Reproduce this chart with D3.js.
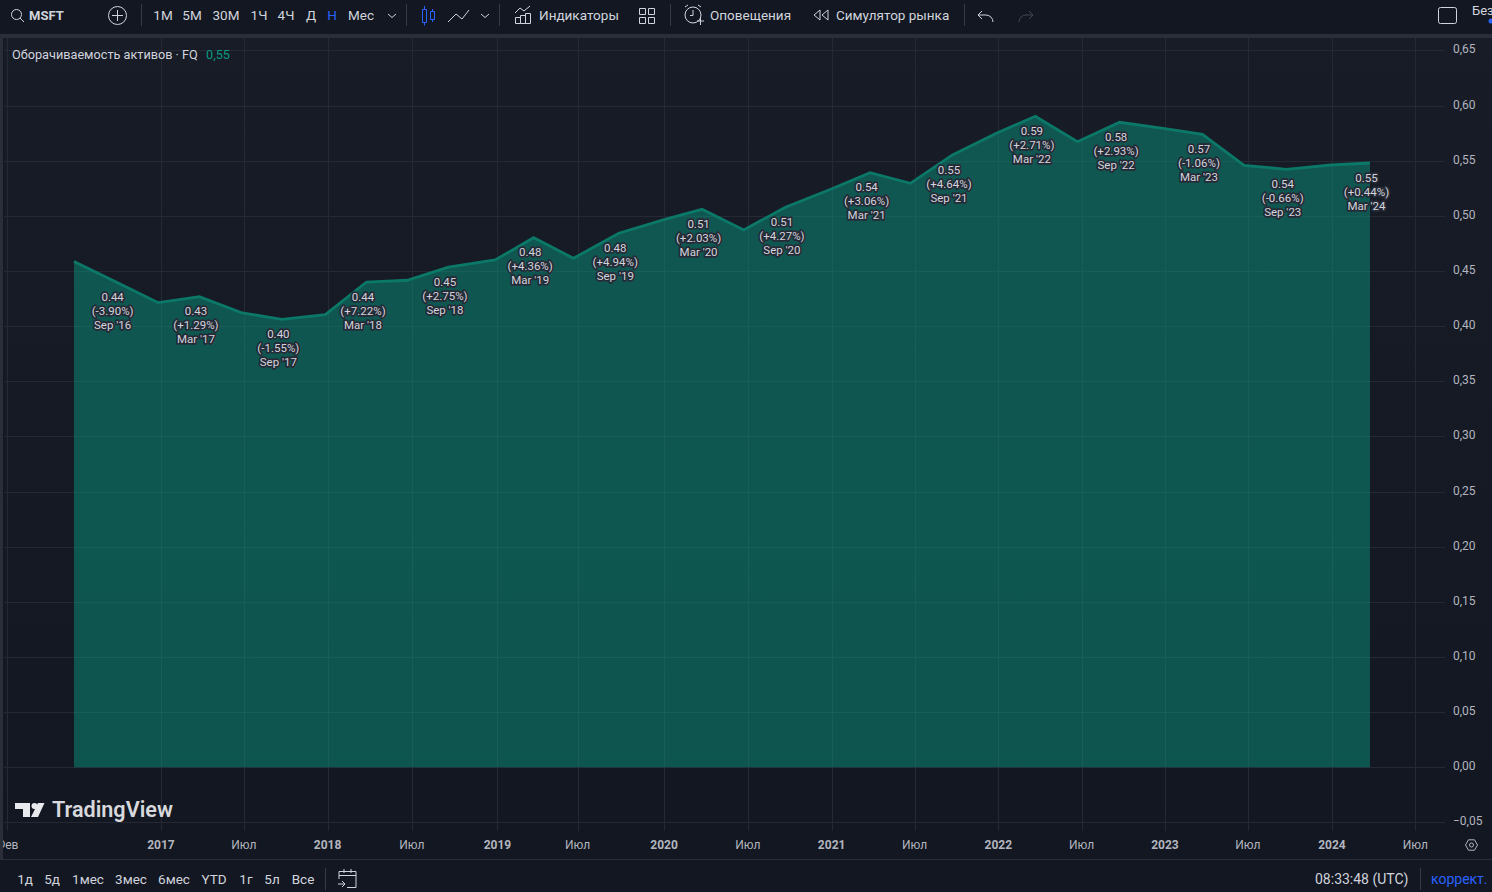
<!DOCTYPE html>
<html>
<head>
<meta charset="utf-8">
<script src="https://cdn.jsdelivr.net/npm/d3@7"></script>
<style>
body { margin: 0; background: #131722; overflow: hidden; }
text { font-family: Roboto, "Noto Sans", sans-serif; }
</style>
</head>
<body>
<svg id="mysvg" width="1492" height="892"></svg>
<script>
// one point per fiscal quarter
let quarterDates = [
    "2016-06-30", "2016-09-30", "2016-12-31", "2017-03-31", "2017-06-30", "2017-09-27", "2017-12-31", "2018-03-31",
    "2018-06-28", "2018-09-26", "2019-01-06", "2019-03-31", "2019-06-26", "2019-10-03", "2020-01-08", "2020-04-02",
    "2020-07-02", "2020-10-01", "2021-01-08", "2021-04-04", "2021-07-01", "2021-10-01", "2022-01-05", "2022-03-31",
    "2022-07-01", "2022-10-01", "2023-01-08", "2023-03-31", "2023-06-30", "2023-09-30", "2024-01-06", "2024-03-31"
];
let turnover = [
    0.4586, 0.440, 0.4213, 0.4267, 0.4122, 0.4062, 0.4104, 0.440,
    0.4416, 0.4534, 0.460, 0.4802, 0.4615, 0.4842, 0.4963, 0.5059,
    0.4872, 0.5078, 0.5241, 0.5391, 0.5295, 0.5552, 0.5749, 0.5903,
    0.5672, 0.5848, 0.579, 0.5739, 0.5458, 0.5422, 0.5461, 0.5479
];

// the labels sit on every second quarter, starting from the second one
let labelValues = ["0.44", "0.43", "0.40", "0.44", "0.45", "0.48", "0.48", "0.51", "0.51", "0.54", "0.55", "0.59", "0.58", "0.57", "0.54", "0.55"];
let labelChanges = ["(-3.90%)", "(+1.29%)", "(-1.55%)", "(+7.22%)", "(+2.75%)", "(+4.36%)", "(+4.94%)", "(+2.03%)", "(+4.27%)", "(+3.06%)", "(+4.64%)", "(+2.71%)", "(+2.93%)", "(-1.06%)", "(-0.66%)", "(+0.44%)"];
let labelPeriods = ["Sep '16", "Mar '17", "Sep '17", "Mar '18", "Sep '18", "Mar '19", "Sep '19", "Mar '20", "Sep '20", "Mar '21", "Sep '21", "Mar '22", "Sep '22", "Mar '23", "Sep '23", "Mar '24"];

let timeTickDates = [
    "2016-02-05", "2017-01-06", "2017-07-06", "2018-01-05", "2018-07-08", "2019-01-11", "2019-07-05", "2020-01-10",
    "2020-07-11", "2021-01-10", "2021-07-10", "2022-01-09", "2022-07-10", "2023-01-08", "2023-07-08", "2024-01-08", "2024-07-08"
];
let timeTickLabels = ["Фев", "2017", "Июл", "2018", "Июл", "2019", "Июл", "2020", "Июл", "2021", "Июл", "2022", "Июл", "2023", "Июл", "2024", "Июл"];
let priceTicks = [-0.05, 0, 0.05, 0.10, 0.15, 0.20, 0.25, 0.30, 0.35, 0.40, 0.45, 0.50, 0.55, 0.60, 0.65];

let intervals = [["1М", 163], ["5М", 192], ["30М", 226], ["1Ч", 259], ["4Ч", 286], ["Д", 311], ["Н", 332], ["Мес", 361]];
let ranges = [["1д", 25], ["5д", 52], ["1мес", 88], ["3мес", 131], ["6мес", 174], ["YTD", 214], ["1г", 246], ["5л", 272], ["Все", 303]];

let Teal = "#089981";
let Blue = "#2962ff";
let TextColor = "#d1d4dc";
let AxisColor = "#b2b5be";
let GridColor = "#252934";
let PanelLine = "#2a2e39";
let Condensed = "'DejaVu Sans Condensed', 'DejaVu Sans', sans-serif";

let svg = d3.select("#mysvg");

let x = d3.scaleUtc()
    .domain([new Date(quarterDates[0]), new Date(quarterDates[quarterDates.length - 1])])
    .range([74, 1370]);
let y = d3.scaleLinear().domain([0, 0.65]).range([767.3, 50.4]);

let ruFormat = d3.format(".2f");
function priceLabel(v)
{
    return ruFormat(v).replace(".", ",").replace("-", "\u2212");
}

function displayPane()
{
    let grad = svg.append("defs").append("linearGradient")
        .attr("id", "panebg").attr("x1", 0).attr("x2", 0).attr("y1", 0).attr("y2", 1);
    grad.append("stop").attr("offset", 0).attr("stop-color", "#181c27");
    grad.append("stop").attr("offset", 1).attr("stop-color", "#131722");

    svg.append("defs").append("clipPath").attr("id", "paneclip")
        .append("rect").attr("x", 4).attr("y", 38).attr("width", 1441).attr("height", 793);

    svg.append("rect").attr("x", 4).attr("y", 38).attr("width", 1488).attr("height", 793).attr("fill", "url(#panebg)");
}

function displayGrid()
{
    let grid = svg.append("g").attr("clip-path", "url(#paneclip)");

    grid.selectAll("line.h").data(priceTicks).enter().append("line")
        .attr("class", "h")
        .attr("x1", 4).attr("x2", 1445)
        .attr("y1", d => Math.round(y(d)) + 0.5).attr("y2", d => Math.round(y(d)) + 0.5)
        .attr("stroke", GridColor);

    grid.selectAll("line.v").data(timeTickDates).enter().append("line")
        .attr("class", "v")
        .attr("y1", 38).attr("y2", 831)
        .attr("x1", d => Math.round(x(new Date(d))) + 0.5).attr("x2", d => Math.round(x(new Date(d))) + 0.5)
        .attr("stroke", GridColor);
}

function displaySeries()
{
    let points = quarterDates.map((d, i) => ({date: new Date(d), value: turnover[i]}));

    let area = d3.area().x(d => x(d.date)).y0(y(0)).y1(d => y(d.value));
    let line = d3.line().x(d => x(d.date)).y(d => y(d.value));

    svg.append("path").datum(points)
        .attr("d", area)
        .attr("fill", Teal)
        .attr("fill-opacity", 0.48);

    svg.append("path").datum(points)
        .attr("d", line)
        .attr("fill", "none")
        .attr("stroke", "#0b7868")
        .attr("stroke-width", 2.8);
}

function displayLabels()
{
    let labelData = labelValues.map((v, i) => {
        let k = 2 * i + 1;
        return {value: v, change: labelChanges[i], period: labelPeriods[i], date: new Date(quarterDates[k]), turnover: turnover[k]};
    });

    let elemEnter = svg.selectAll("g.lbl").data(labelData).enter().append("g")
        .attr("class", "lbl")
        .attr("transform", d => "translate(" + (x(d.date) - 3.5) + ", " + y(d.turnover) + ")");

    ["value", "change", "period"].forEach(function(key, row) {
        elemEnter.append("text")
            .attr("y", 18.6 + row * 14)
            .attr("text-anchor", "middle")
            .attr("font-size", 11.5)
            .attr("font-family", Condensed)
            .attr("fill", TextColor)
            .attr("stroke", "#262a36")
            .attr("stroke-width", 3.4)
            .attr("stroke-linejoin", "round")
            .attr("paint-order", "stroke")
            .text(d => d[key]);
    });
}

function displayAxes()
{
    svg.selectAll("text.price").data(priceTicks).enter().append("text")
        .attr("class", "price")
        .attr("x", 1453)
        .attr("y", d => y(d) + 3)
        .attr("font-size", 12)
        .attr("fill", AxisColor)
        .text(priceLabel);

    svg.selectAll("text.time").data(timeTickDates).enter().append("text")
        .attr("class", "time")
        .attr("x", d => x(new Date(d)))
        .attr("y", 849)
        .attr("text-anchor", "middle")
        .attr("font-size", 12)
        .attr("font-weight", (d, i) => /^\d/.test(timeTickLabels[i]) ? 700 : 400)
        .attr("fill", AxisColor)
        .text((d, i) => timeTickLabels[i]);

    // gear in the axis corner
    svg.append("path")
        .attr("d", "M1465.5 845l3-5.2h6l3 5.2-3 5.2h-6z")
        .attr("fill", "none").attr("stroke", AxisColor);
    svg.append("circle").attr("cx", 1471.5).attr("cy", 845).attr("r", 2)
        .attr("fill", "none").attr("stroke", AxisColor);
}

function displayLegend()
{
    svg.append("text").attr("x", 12).attr("y", 59).attr("font-size", 12.7).attr("fill", TextColor)
        .text("Оборачиваемость активов · FQ");
    svg.append("text").attr("x", 206).attr("y", 59).attr("font-size", 12.7).attr("fill", Teal)
        .text("0,55");

    // watermark
    svg.append("path")
        .attr("d", "M15 803h15v14h-7v-8h-8zM34.5 803a3 3 0 1 1 0 6 3 3 0 0 1 0-6zM38 803h6.5l-6.5 14h-7z")
        .attr("fill", "#e8e9ec");
    svg.append("text").attr("x", 52).attr("y", 817).attr("font-size", 21.6).attr("font-weight", 600)
        .attr("font-family", "Inter, sans-serif").attr("fill", "#d8d9dd")
        .text("TradingView");
}

function barText(txt, px, py, anchor, color, size)
{
    return svg.append("text").attr("x", px).attr("y", py)
        .attr("text-anchor", anchor).attr("font-size", size || 13.5)
        .attr("fill", color || TextColor).text(txt);
}

function icon(d, color)
{
    svg.append("path").attr("d", d).attr("fill", "none").attr("stroke", color || TextColor);
}

function separator(px, y1, y2)
{
    svg.append("line").attr("x1", px).attr("x2", px).attr("y1", y1).attr("y2", y2).attr("stroke", "#363a45");
}

function displayTopBar()
{
    svg.append("rect").attr("width", 1492).attr("height", 34).attr("fill", "#131722");
    svg.append("rect").attr("y", 34).attr("width", 1492).attr("height", 4).attr("fill", PanelLine);
    svg.append("rect").attr("x", 0).attr("y", 34).attr("width", 3).attr("height", 826).attr("fill", PanelLine);

    svg.append("circle").attr("cx", 16.5).attr("cy", 14.5).attr("r", 5).attr("fill", "none").attr("stroke", TextColor);
    icon("M20 18l4 4");
    barText("MSFT", 29, 20, "start", TextColor, 13).attr("font-weight", 700);

    svg.append("circle").attr("cx", 117.5).attr("cy", 15.5).attr("r", 9).attr("fill", "none").attr("stroke", TextColor);
    icon("M117.5 10v11M112 15.5h11");
    separator(141.5, 4, 26);

    intervals.forEach(function(d) {
        barText(d[0], d[1], 20, "middle", d[0] == "Н" ? Blue : TextColor);
    });
    icon("M388 14l4 3.5 4-3.5");
    separator(406.5, 4, 26);

    // candles
    icon("M422.5 9.5h4v13h-4zM424.5 6v3.5M424.5 22.5v3M430.5 11.5h4v8h-4zM432.5 9v2.5M432.5 19.5v2.5", Blue);
    icon("M448 22l8-8 6 5 7-9");
    icon("M481 14l4 3.5 4-3.5");
    separator(499.5, 4, 26);

    icon("M515.5 23.5v-6h5v6zM520.5 23.5v-8h5v8zM525.5 23.5v-10h5v10zM515 13l5-5 4 3 6-5");
    barText("Индикаторы", 539, 20, "start");
    icon("M639.5 8.5h6v6h-6zM648.5 8.5h6v6h-6zM639.5 17.5h6v6h-6zM648.5 17.5h6v6h-6z");
    separator(670.5, 4, 26);

    svg.append("circle").attr("cx", 693).attr("cy", 15).attr("r", 8).attr("fill", "none").attr("stroke", TextColor);
    icon("M693 10v5.5h-3M685 7l3-2M701 7l-3-2M697 21h7M700.5 18v7");
    barText("Оповещения", 710, 20, "start");
    icon("M820 10l-6 5 6 5zM828 10l-6 5 6 5z");
    barText("Симулятор рынка", 836, 20, "start");
    separator(964.5, 4, 26);

    icon("M982 11l-4 4 4 4M978 15h8a7 7 0 0 1 7 7");
    icon("M1029 11l4 4-4 4M1033 15h-7a7 7 0 0 0-7 7", "#434651");

    svg.append("rect").attr("x", 1438.5).attr("y", 7.5).attr("width", 18).attr("height", 16).attr("rx", 2)
        .attr("fill", "none").attr("stroke", TextColor);
    barText("Без", 1472, 15, "start", TextColor, 13);
    svg.append("circle").attr("cx", 1491).attr("cy", 21).attr("r", 2.5).attr("fill", Blue);
}

function displayBottomBar()
{
    svg.append("line").attr("x1", 0).attr("x2", 1492).attr("y1", 859.5).attr("y2", 859.5).attr("stroke", PanelLine);

    ranges.forEach(function(d) {
        barText(d[0], d[1], 884, "middle", TextColor, 13.5);
    });
    separator(325.5, 868, 890);
    icon("M339 879v-7.5h17v16h-9M339 875.5h17M344 869v4M351 869v4M338 884h7M342 881l3 3-3 3");

    barText("08:33:48 (UTC)", 1315, 884, "start", TextColor, 14);
    separator(1420.5, 868, 890);
    barText("коррект.", 1431, 884, "start", Blue, 14);
}

displayPane();
displayGrid();
displaySeries();
displayLabels();
displayLegend();
displayAxes();
displayTopBar();
displayBottomBar();
</script>
</body>
</html>
